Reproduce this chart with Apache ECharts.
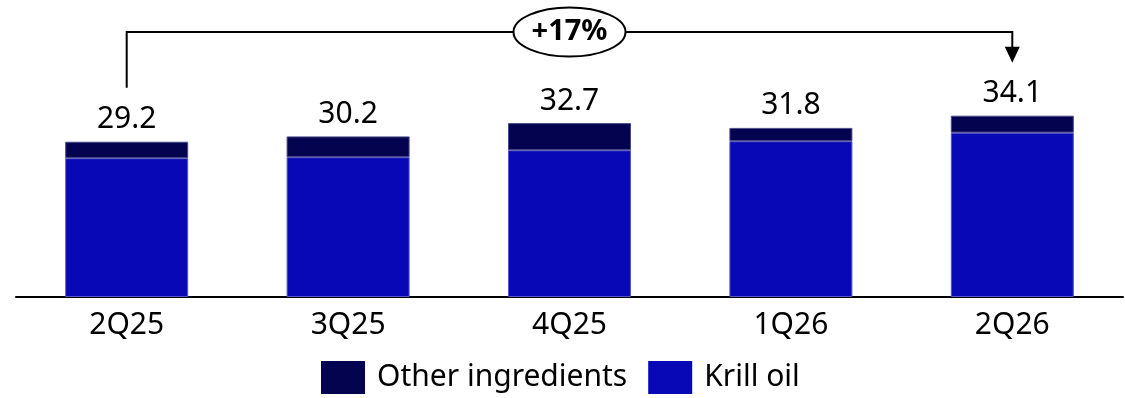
<!DOCTYPE html>
<html>
<head>
<meta charset="utf-8">
<script src="https://cdn.jsdelivr.net/npm/echarts@6/dist/echarts.min.js"></script>
<style>
html,body{margin:0;padding:0;background:#fff;}
#chart{width:1125px;height:398px;}
</style>
</head>
<body>
<div id="chart"></div>
<script>
// ---- data ----
const categories = ['2Q25', '3Q25', '4Q25', '1Q26', '2Q26'];
const krillOil = [26.1, 26.3, 27.6, 29.3, 30.9];
const otherIngredients = [3.1, 3.9, 5.1, 2.5, 3.2];
const totals = [29.2, 30.2, 32.7, 31.8, 34.1];
const growthLabel = '+17%';

const FONT = '"Noto Sans", "DejaVu Sans", sans-serif';
const chart = echarts.init(document.getElementById('chart'), null, {renderer: 'canvas'});

const option = {
  animation: false,
  backgroundColor: '#ffffff',
  grid: {left: 16, right: 2, top: 84.3, bottom: 101, containLabel: false},
  legend: {
    left: 316, top: 356,
    itemWidth: 44, itemHeight: 33, itemGap: 21,
    icon: 'rect',
    data: ['Other ingredients', 'Krill oil'],
    itemStyle: {borderWidth: 0},
    textStyle: {fontFamily: FONT, fontSize: 30, color: '#000', padding: [0, 0, 0, 7]}
  },
  xAxis: {
    type: 'category',
    data: categories,
    axisLine: {show: true, lineStyle: {color: '#000', width: 2}},
    axisTick: {show: false},
    axisLabel: {fontFamily: FONT, fontSize: 30, color: '#000', margin: 13}
  },
  yAxis: {type: 'value', min: 0, max: 40, show: false, splitLine: {show: false}},
  series: [
    {
      name: 'Krill oil', type: 'bar', stack: 'total', barWidth: 123,
      data: krillOil,
      itemStyle: {color: '#0808B6', borderColor: '#5656c4', borderWidth: 1}
    },
    {
      name: 'Other ingredients', type: 'bar', stack: 'total', barWidth: 123,
      data: otherIngredients,
      itemStyle: {color: '#03034F', borderColor: '#4a4a8a', borderWidth: 1},
      label: {
        show: true, position: 'top', distance: 7,
        fontFamily: FONT, fontSize: 30, color: '#000',
        formatter: p => totals[p.dataIndex].toFixed(1)
      }
    }
  ]
};
chart.setOption(option);

// bracket annotation, positioned from the chart's own scales
const first = chart.convertToPixel({gridIndex: 0}, [0, totals[0]]);
const last = chart.convertToPixel({gridIndex: 0}, [categories.length - 1, totals[totals.length - 1]]);
const lineY = 32;
const leftBottom = first[1] - 54;
const tipY = last[1] - 53;
const midX = (first[0] + last[0]) / 2;
chart.setOption({
  graphic: [
    {type: 'polyline', shape: {points: [[first[0], leftBottom], [first[0], lineY], [last[0], lineY], [last[0], tipY - 14]]},
     style: {stroke: '#000', lineWidth: 2, fill: null}, z: 10},
    {type: 'polygon', shape: {points: [[last[0] - 7.5, tipY - 16], [last[0] + 7.5, tipY - 16], [last[0], tipY]]},
     style: {fill: '#000'}, z: 10},
    {type: 'ellipse', shape: {cx: midX, cy: lineY, rx: 56, ry: 24.5},
     style: {fill: '#fff', stroke: '#000', lineWidth: 2}, z: 11},
    {type: 'text', x: midX, y: lineY, z: 12,
     style: {text: growthLabel, fontFamily: FONT, fontSize: 29, fontWeight: 'bold', fill: '#000', align: 'center', verticalAlign: 'middle'}}
  ]
});
</script>
</body>
</html>
